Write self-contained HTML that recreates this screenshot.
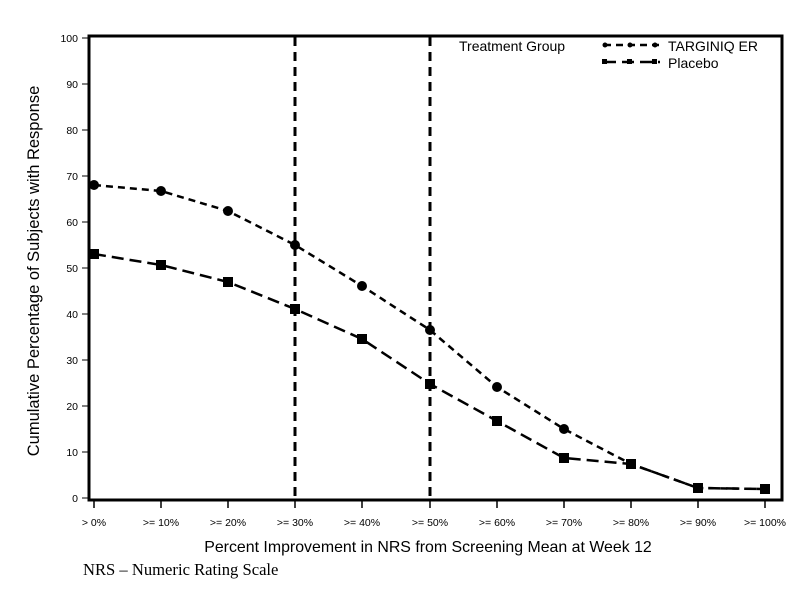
<!DOCTYPE html>
<html><head><style>body{margin:0;background:#fff}svg{display:block}</style></head><body>
<svg width="806" height="591" xmlns="http://www.w3.org/2000/svg" font-family="Liberation Sans, Arial, sans-serif">
<rect x="0" y="0" width="806" height="591" fill="#fff"/>
<rect x="89" y="36" width="693" height="464" fill="none" stroke="#000" stroke-width="3"/>
<g stroke="#000" stroke-width="1">
<line x1="82" y1="38" x2="88" y2="38"/><line x1="82" y1="84" x2="88" y2="84"/><line x1="82" y1="130" x2="88" y2="130"/><line x1="82" y1="176" x2="88" y2="176"/><line x1="82" y1="222" x2="88" y2="222"/><line x1="82" y1="268" x2="88" y2="268"/><line x1="82" y1="314" x2="88" y2="314"/><line x1="82" y1="360" x2="88" y2="360"/><line x1="82" y1="406" x2="88" y2="406"/><line x1="82" y1="452" x2="88" y2="452"/><line x1="82" y1="498" x2="88" y2="498"/>
</g>
<g font-size="10.5" text-anchor="end" fill="#000">
<text x="78" y="42">100</text><text x="78" y="88">90</text><text x="78" y="134">80</text><text x="78" y="180">70</text><text x="78" y="226">60</text><text x="78" y="272">50</text><text x="78" y="318">40</text><text x="78" y="364">30</text><text x="78" y="410">20</text><text x="78" y="456">10</text><text x="78" y="502">0</text>
</g>
<g stroke="#000" stroke-width="1.5">
<line x1="94" y1="501" x2="94" y2="508"/><line x1="161" y1="501" x2="161" y2="508"/><line x1="228" y1="501" x2="228" y2="508"/><line x1="295" y1="501" x2="295" y2="508"/><line x1="362" y1="501" x2="362" y2="508"/><line x1="430" y1="501" x2="430" y2="508"/><line x1="497" y1="501" x2="497" y2="508"/><line x1="564" y1="501" x2="564" y2="508"/><line x1="631" y1="501" x2="631" y2="508"/><line x1="698" y1="501" x2="698" y2="508"/><line x1="765" y1="501" x2="765" y2="508"/>
</g>
<g font-size="10.5" text-anchor="middle" fill="#000">
<text x="94" y="526">&gt; 0%</text><text x="161" y="526">&gt;= 10%</text><text x="228" y="526">&gt;= 20%</text><text x="295" y="526">&gt;= 30%</text><text x="362" y="526">&gt;= 40%</text><text x="430" y="526">&gt;= 50%</text><text x="497" y="526">&gt;= 60%</text><text x="564" y="526">&gt;= 70%</text><text x="631" y="526">&gt;= 80%</text><text x="698" y="526">&gt;= 90%</text><text x="765" y="526">&gt;= 100%</text>
</g>
<text x="428" y="552" font-size="15.9" text-anchor="middle">Percent Improvement in NRS from Screening Mean at Week 12</text>
<text x="83" y="575" font-size="16.6" font-family="Liberation Serif, serif">NRS – Numeric Rating Scale</text>
<text transform="translate(39,271) rotate(-90)" font-size="16.5" text-anchor="middle">Cumulative Percentage of Subjects with Response</text>
<line x1="295" y1="37" x2="295" y2="500" stroke="#000" stroke-width="3" stroke-dasharray="9,6"/>
<line x1="430" y1="37" x2="430" y2="500" stroke="#000" stroke-width="3" stroke-dasharray="9,6"/>
<polyline fill="none" stroke="#000" stroke-width="2.5" stroke-dasharray="7,5" points="94,185 161,191 228,211 295,245 362,286 430,330 497,387 564,429 631,464 698,488 765,489"/>
<polyline fill="none" stroke="#000" stroke-width="2.5" stroke-dasharray="12,6" points="94,254 161,265 228,282 295,309 362,339 430,384 497,421 564,458 631,464 698,488 765,489"/>
<g fill="#000">
<circle cx="94" cy="185" r="5"/><circle cx="161" cy="191" r="5"/><circle cx="228" cy="211" r="5"/><circle cx="295" cy="245" r="5"/><circle cx="362" cy="286" r="5"/><circle cx="430" cy="330" r="5"/><circle cx="497" cy="387" r="5"/><circle cx="564" cy="429" r="5"/><circle cx="631" cy="464" r="5"/><circle cx="698" cy="488" r="5"/><circle cx="765" cy="489" r="5"/>
<rect x="89" y="249" width="10" height="10"/><rect x="156" y="260" width="10" height="10"/><rect x="223" y="277" width="10" height="10"/><rect x="290" y="304" width="10" height="10"/><rect x="357" y="334" width="10" height="10"/><rect x="425" y="379" width="10" height="10"/><rect x="492" y="416" width="10" height="10"/><rect x="559" y="453" width="10" height="10"/><rect x="626" y="459" width="10" height="10"/><rect x="693" y="483" width="10" height="10"/><rect x="760" y="484" width="10" height="10"/>
</g>
<text x="459" y="51" font-size="14">Treatment Group</text>
<line x1="604" y1="45" x2="660" y2="45" stroke="#000" stroke-width="2.5" stroke-dasharray="7,5"/>
<circle cx="605" cy="45" r="2.5"/><circle cx="630" cy="45" r="2.5"/><circle cx="655" cy="45" r="2.5"/>
<text x="668" y="51" font-size="14">TARGINIQ ER</text>
<line x1="604" y1="62" x2="660" y2="62" stroke="#000" stroke-width="2.5" stroke-dasharray="12,6"/>
<rect x="602" y="59" width="5" height="5"/><rect x="627" y="59" width="5" height="5"/><rect x="652" y="59" width="5" height="5"/>
<text x="668" y="68" font-size="14">Placebo</text>
</svg>
</body></html>
